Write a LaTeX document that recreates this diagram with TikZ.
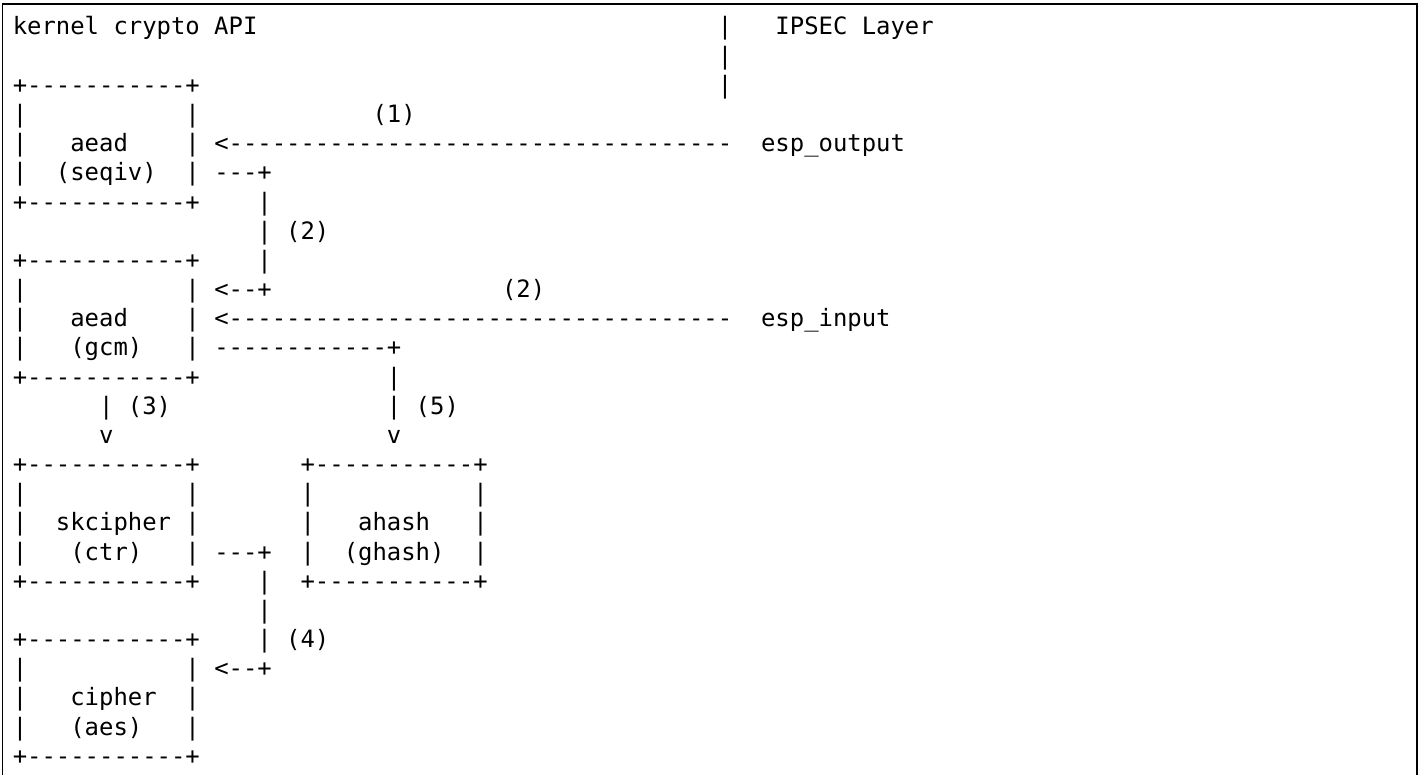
\documentclass[tikz,border=0pt]{standalone}
\usepackage{fontspec}
\setmonofont{DejaVu Sans Mono}

\tikzset{
  ascii/.style={anchor=base west, inner sep=0pt, outer sep=0pt,
    font=\ttfamily\fontsize{11.95pt}{14.585pt}\selectfont},
}

% one ASCII box: name, column, top row, label offset, label, sub offset, sub
\newcommand{\asciibox}[7]{%
  \node[ascii] (#1-top) at (#2,#3) {+-----------+};
  \foreach \k in {1,2,3} {
    \node[ascii] (#1-l\k) at (#2,#3+\k) {|};
    \node[ascii] (#1-r\k) at (#2+12,#3+\k) {|};
  }
  \node[ascii] (#1) at (#2+#4,#3+2) {#5};
  \node[ascii] (#1-sub) at (#2+#6,#3+3) {#7};
  \node[ascii] (#1-bot) at (#2,#3+4) {+-----------+};
}

\begin{document}
\begin{tikzpicture}[x=7.195pt, y=-14.585pt]
  \useasboundingbox (-6.4pt,2.915pt) rectangle (705.6pt,-384.585pt);
  \draw[line width=0.6pt] (-5.15pt,-390pt) |- (702.1pt,0.915pt) -- (702.1pt,-390pt);
  % headings
  \node[ascii] (api) at (0,1) {kernel crypto API};
  \node[ascii] (ipsec) at (53,1) {IPSEC Layer};
  \foreach \j in {1,2,3} \node[ascii] (sep\j) at (49,\j) {|};
  % boxes
  \asciibox{seqiv}{0}{3}{4}{aead}{3}{(seqiv)}
  \asciibox{gcm}{0}{9}{4}{aead}{4}{(gcm)}
  \asciibox{ctr}{0}{16}{3}{skcipher}{4}{(ctr)}
  \asciibox{ghash}{20}{16}{4}{ahash}{3}{(ghash)}
  \asciibox{aes}{0}{22}{4}{cipher}{4}{(aes)}
  % (1) esp_output to aead (seqiv)
  \node[ascii] (out) at (52,5) {esp\_output};
  \node[ascii] (arr1) at (14,5) {<-----------------------------------};
  \node[ascii] (lab1) at (25,4) {(1)};
  % (2) seqiv down to gcm
  \node[ascii] (arr2a) at (14,6) {---+};
  \foreach \j in {7,8,9} \node[ascii] (v2-\j) at (17,\j) {|};
  \node[ascii] (lab2a) at (19,8) {(2)};
  \node[ascii] (arr2b) at (14,10) {<--+};
  % (2) esp_input to aead (gcm)
  \node[ascii] (in) at (52,11) {esp\_input};
  \node[ascii] (arr2c) at (14,11) {<-----------------------------------};
  \node[ascii] (lab2b) at (34,10) {(2)};
  % (3) gcm to skcipher
  \node[ascii] (v3) at (6,14) {|};
  \node[ascii] (lab3) at (8,14) {(3)};
  \node[ascii] (tip3) at (6,15) {v};
  % (5) gcm to ahash
  \node[ascii] (arr5) at (14,12) {------------+};
  \foreach \j in {13,14} \node[ascii] (v5-\j) at (26,\j) {|};
  \node[ascii] (lab5) at (28,14) {(5)};
  \node[ascii] (tip5) at (26,15) {v};
  % (4) skcipher to cipher
  \node[ascii] (arr4a) at (14,19) {---+};
  \foreach \j in {20,21,22} \node[ascii] (v4-\j) at (17,\j) {|};
  \node[ascii] (lab4) at (19,22) {(4)};
  \node[ascii] (arr4b) at (14,23) {<--+};
\end{tikzpicture}
\end{document}
